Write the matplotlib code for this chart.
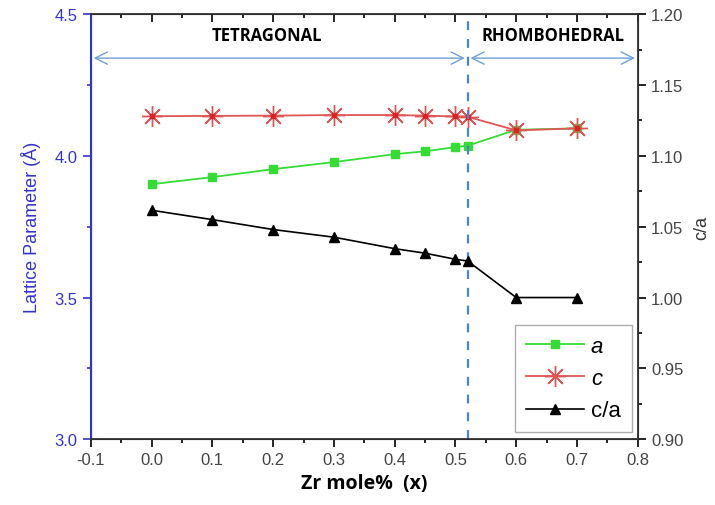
import matplotlib
matplotlib.use("Agg")
import matplotlib.pyplot as plt
from matplotlib.ticker import MultipleLocator

plt.rcParams['font.family'] = ['Liberation Sans', 'DejaVu Sans']

zr = [0.0, 0.1, 0.2, 0.3, 0.4, 0.45, 0.5, 0.52, 0.6, 0.7]
a_param = [3.900, 3.925, 3.953, 3.978, 4.006, 4.016, 4.031, 4.036, 4.092, 4.097]
c_param = [4.140, 4.141, 4.142, 4.144, 4.144, 4.142, 4.139, 4.138, 4.090, 4.097]
c_over_a = [1.0616, 1.0550, 1.0480, 1.0426, 1.0345, 1.0313, 1.0270, 1.0258, 1.0000, 1.0000]

boundary = 0.52
blue = '#3333cc'
arrow_blue = '#6f9fd8'

fig = plt.figure(figsize=(7.15, 5.06), dpi=100)
ax = fig.add_axes([0.127, 0.130, 0.765, 0.840])
ax2 = ax.twinx()

la, = ax.plot(zr, a_param, color='#33dd33', marker='s', markersize=6, lw=1.3, label='a')
lc, = ax.plot(zr, c_param, color='#e05555', marker=(8, 2, 0), markersize=15, mew=1.0,
              lw=1.3, label='c')
ax.plot(zr, c_param, ls='none', marker='s', markersize=3, color='#dd2222')
lr, = ax2.plot(zr, c_over_a, color='black', marker='^', markersize=7, lw=1.2, label='c/a')

ax.set_xlim(-0.1, 0.8)
ax.set_ylim(3.0, 4.5)
ax2.set_ylim(0.90, 1.20)

ax.xaxis.set_major_locator(MultipleLocator(0.1))
ax.xaxis.set_minor_locator(MultipleLocator(0.05))
ax.yaxis.set_major_locator(MultipleLocator(0.5))
ax.yaxis.set_minor_locator(MultipleLocator(0.25))
ax2.yaxis.set_major_locator(MultipleLocator(0.05))
ax2.yaxis.set_minor_locator(MultipleLocator(0.025))

ax.tick_params(axis='x', which='both', direction='out', top=True, labelsize=12,
               labelcolor='#444444', width=1.2)
ax.tick_params(axis='x', which='major', length=6)
ax.tick_params(axis='x', which='minor', length=3)
ax.tick_params(axis='y', which='both', colors=blue, labelsize=12, width=1.2)
ax.tick_params(axis='y', which='major', length=6)
ax.tick_params(axis='y', which='minor', length=3)
ax2.tick_params(axis='y', which='both', labelsize=12, labelcolor='#444444', width=1.2)
ax2.tick_params(axis='y', which='major', length=6)
ax2.tick_params(axis='y', which='minor', length=3)
ax.set_xticklabels([f'{v:.1f}' for v in ax.get_xticks()])
ax.set_yticklabels([f'{v:.1f}' for v in ax.get_yticks()])
ax2.set_yticklabels([f'{v:.2f}' for v in ax2.get_yticks()])
# top ticks point inward
for t in ax.xaxis.get_major_ticks() + ax.xaxis.get_minor_ticks():
    t.tick2line.set_marker(3)

for s in ['top', 'bottom', 'right']:
    ax2.spines[s].set_color('#333333')
    ax2.spines[s].set_linewidth(1.3)
ax2.spines['left'].set_color(blue)
ax2.spines['left'].set_linewidth(1.5)

ax.set_ylabel('Lattice Parameter (Å)', color=blue, fontsize=13, labelpad=10)
ax2.set_ylabel('c/a', fontsize=13, color='#333333', labelpad=7)
ax.set_xlabel('Zr mole%  (x)', fontsize=14, fontweight='bold', family=['Open Sans', 'DejaVu Sans'])

ax.axvline(boundary, color='#4a86d0', ls=(0, (4, 4)), lw=1.6)
ax.annotate('', xy=(-0.1, 4.345), xytext=(boundary, 4.345),
            arrowprops=dict(arrowstyle='<->', color=arrow_blue, lw=1.0, mutation_scale=22))
ax.annotate('', xy=(boundary, 4.345), xytext=(0.8, 4.345),
            arrowprops=dict(arrowstyle='<->', color=arrow_blue, lw=1.0, mutation_scale=22))
ax.text(0.19, 4.425, 'TETRAGONAL', ha='center', va='center', fontsize=12,
        fontweight='bold', family=['Open Sans', 'DejaVu Sans'])
ax.text(0.66, 4.425, 'RHOMBOHEDRAL', ha='center', va='center', fontsize=12,
        fontweight='bold', family=['Open Sans', 'DejaVu Sans'])

leg = ax2.legend([la, lc, lr], ['a', 'c', 'c/a'], loc='lower right',
                 bbox_to_anchor=(0.989, 0.016), borderaxespad=0, fontsize=16,
                 handlelength=2.6, fancybox=False, edgecolor='#999999', borderpad=0.5,
                 labelspacing=0.5, handletextpad=0.3)
for t in leg.get_texts()[:2]:
    t.set_fontstyle('italic')

fig.savefig('out.png', dpi=100)
